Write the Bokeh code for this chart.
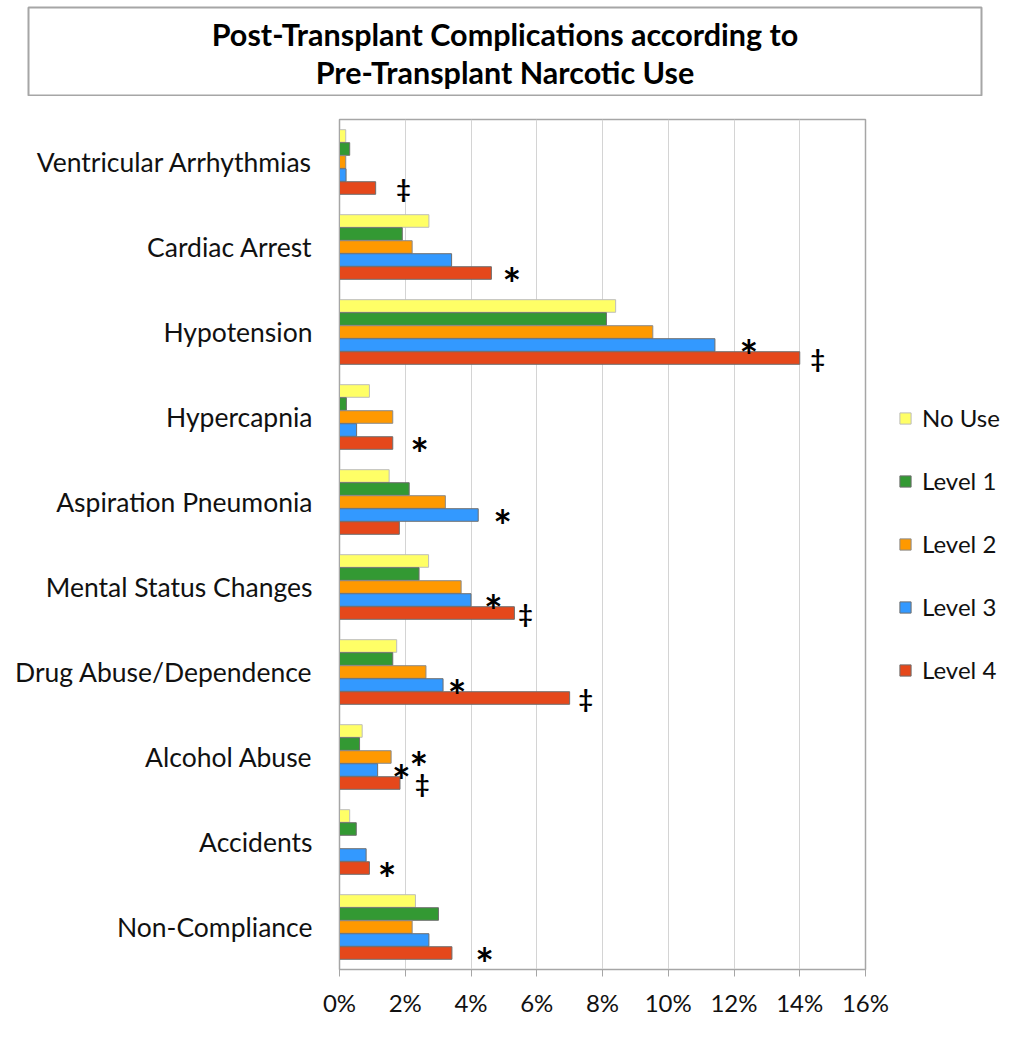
from bokeh.plotting import figure
from bokeh.models import (FactorRange, Range1d, Legend, LegendItem, FixedTicker,
                          PrintfTickFormatter, Label)
from bokeh.layouts import column, row
from bokeh.transform import dodge
from bokeh.core.properties import value
from bokeh.embed import file_html
from bokeh.resources import INLINE

# ---------------- data ----------------
categories = ["Ventricular Arrhythmias", "Cardiac Arrest", "Hypotension", "Hypercapnia",
              "Aspiration Pneumonia", "Mental Status Changes", "Drug Abuse/Dependence",
              "Alcohol Abuse", "Accidents", "Non-Compliance"]
series = ["No Use", "Level 1", "Level 2", "Level 3", "Level 4"]
no_use = [0.19, 2.72, 8.40, 0.91, 1.51, 2.71, 1.74, 0.69, 0.31, 2.31]
level1 = [0.31, 1.91, 8.12, 0.21, 2.12, 2.42, 1.62, 0.61, 0.51, 3.01]
level2 = [0.19, 2.21, 9.53, 1.62, 3.22, 3.70, 2.63, 1.57, 0.00, 2.21]
level3 = [0.20, 3.41, 11.42, 0.52, 4.22, 4.00, 3.15, 1.16, 0.81, 2.72]
level4 = [1.10, 4.62, 14.00, 1.62, 1.82, 5.32, 7.00, 1.84, 0.91, 3.42]
x_ticks = [0, 2, 4, 6, 8, 10, 12, 14, 16]

# significance markers
ann_category = ["Ventricular Arrhythmias", "Cardiac Arrest", "Hypotension", "Hypotension",
                "Hypercapnia", "Aspiration Pneumonia", "Mental Status Changes",
                "Mental Status Changes", "Drug Abuse/Dependence", "Drug Abuse/Dependence",
                "Alcohol Abuse", "Alcohol Abuse", "Alcohol Abuse", "Accidents", "Non-Compliance"]
ann_series = ["Level 4", "Level 4", "Level 3", "Level 4", "Level 4", "Level 3", "Level 3",
              "Level 4", "Level 3", "Level 4", "Level 2", "Level 3", "Level 4", "Level 4", "Level 4"]
ann_symbol = ["‡", "*", "*", "‡", "*", "*", "*", "‡", "*", "‡", "*", "*", "‡", "*", "*"]
ann_x = [1.95, 5.24, 12.45, 14.55, 2.44, 4.96, 4.68, 5.66, 3.58, 7.49, 2.41, 1.88, 2.52, 1.45, 4.41]

title_lines = ["Post-Transplant Complications according to", "Pre-Transplant Narcotic Use"]

# ---------------- styling ----------------
colors = ["#FFFF66", "#339933", "#FF9900", "#3399FF", "#E5481B"]
borders = ["#BDBDBD", "#6E6E6E", "#8A8A8A", "#6E6E6E", "#6E6E6E"]
offsets = [0.306, 0.153, 0.0, -0.153, -0.306]
FONT = "Lato"

values = [no_use, level1, level2, level3, level4]

p = figure(y_range=FactorRange(factors=categories[::-1], range_padding=0),
           x_range=Range1d(0, 16),
           frame_width=526, frame_height=850,
           min_border_left=339, min_border_top=23, min_border_right=150, min_border_bottom=10,
           output_backend="svg", toolbar_location=None)

renderers = []
for s, vals, c, b, off in zip(series, values, colors, borders, offsets):
    src = dict(cat=categories, val=vals)
    r = p.hbar(y=dodge("cat", off, range=p.y_range), right="val", left=0, height=0.148,
               source=src, fill_color=c, line_color=b, line_width=1)
    renderers.append(r)

# markers
for s, off in zip(series, offsets):
    idx = [i for i, ss in enumerate(ann_series) if ss == s]
    for sym, size, yoff in (("*", "44px", 10), ("‡", "25px", 0)):
        sel = [i for i in idx if ann_symbol[i] == sym]
        if not sel:
            continue
        src = dict(cat=[ann_category[i] for i in sel], x=[ann_x[i] for i in sel],
                   t=[ann_symbol[i] for i in sel])
        p.text(x="x", y=dodge("cat", off, range=p.y_range), text="t", source=src,
               text_font=value(FONT), text_font_size=size, text_font_style="bold",
               text_align="center", text_baseline="middle", y_offset=yoff, text_color="black")

# axes
p.xaxis.ticker = FixedTicker(ticks=x_ticks)
p.xaxis.formatter = PrintfTickFormatter(format="%d%%")
p.xaxis.minor_tick_line_color = None
p.xaxis.major_tick_out = 7
p.xaxis.major_tick_in = 0
p.xaxis.major_tick_line_color = "#A6A6A6"
p.xaxis.axis_line_color = "#A6A6A6"
p.xaxis.major_label_text_font = FONT
p.xaxis.major_label_text_font_size = "24px"
p.xaxis.major_label_text_color = "#111111"
p.xaxis.major_label_standoff = 11

p.yaxis.major_tick_line_color = None
p.yaxis.minor_tick_line_color = None
p.yaxis.axis_line_color = "#A6A6A6"
p.yaxis.major_label_text_font = FONT
p.yaxis.major_label_text_font_size = "26.5px"
p.yaxis.major_label_text_color = "#111111"
p.yaxis.major_label_standoff = 21

p.xgrid.grid_line_color = "#D4D4D4"
p.ygrid.grid_line_color = None
p.outline_line_color = "#A6A6A6"
p.outline_line_width = 1.5

legend = Legend(items=[LegendItem(label=s, renderers=[r]) for s, r in zip(series, renderers)],
                location=(33, 285), border_line_color=None, background_fill_alpha=0,
                glyph_width=14, glyph_height=14, label_height=24, spacing=34,
                label_text_font=FONT, label_text_font_size="24px", label_text_color="#111111",
                label_standoff=10, margin=0, padding=0)
p.add_layout(legend, "right")

# ---------------- title box ----------------
t = figure(x_range=Range1d(0, 953), y_range=Range1d(0, 89),
           frame_width=953, frame_height=89,
           min_border_left=28, min_border_right=34, min_border_top=7, min_border_bottom=0,
           output_backend="svg", toolbar_location=None)
t.axis.visible = False
t.grid.grid_line_color = None
t.outline_line_color = "#A6A6A6"
t.outline_line_width = 2
for k, line in enumerate(title_lines):
    t.add_layout(Label(x=476.5, y=63 - 38 * k, text=line, text_align="center",
                       text_baseline="middle", text_font=FONT, text_font_size="30.5px",
                       text_font_style="bold", text_color="black"))

layout = column(row(t), p, spacing=0)
open("out.html", "w").write(file_html(layout, INLINE))
